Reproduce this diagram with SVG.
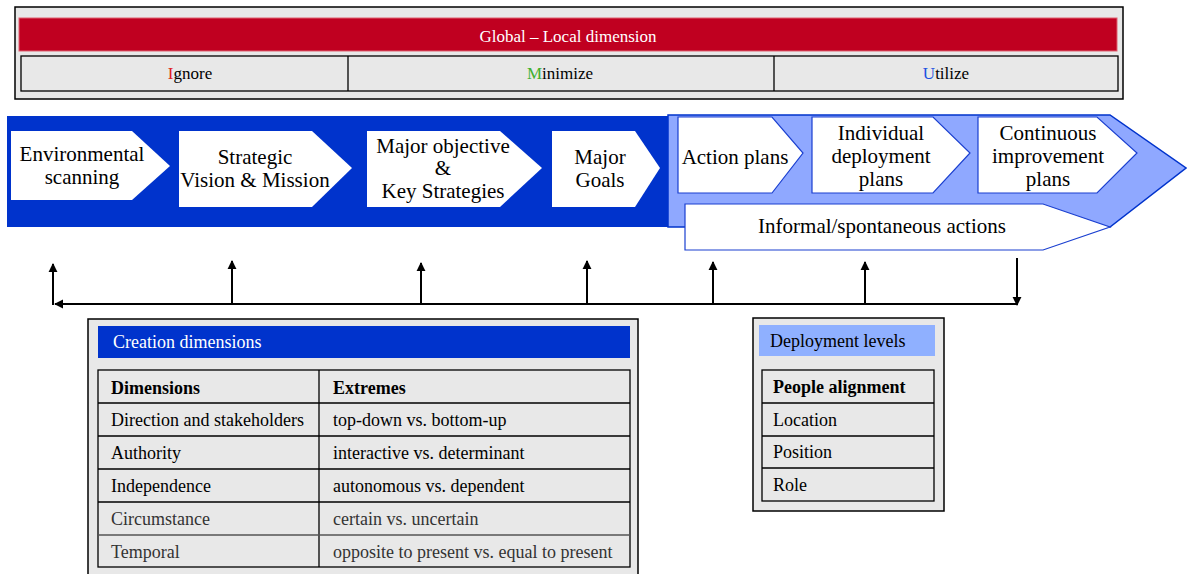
<svg xmlns="http://www.w3.org/2000/svg" width="1187" height="574" viewBox="0 0 1187 574">
<defs>
<style>
text{font-family:"Liberation Serif","Times New Roman",serif;fill:#000}
.node{font-size:21px;text-anchor:middle}
.tbl{font-size:18px}
.b{font-weight:bold}
.panel{fill:#e8e8e8;stroke:#000;stroke-width:1.5}
.cell{fill:none;stroke:#000;stroke-width:1.3}
.wn{fill:#fff;stroke:none}
.ln{fill:#fff;stroke:#1a3fd0;stroke-width:1.2}
.conn{stroke:#000;stroke-width:2;fill:none}
</style>
<marker id="ah" viewBox="0 0 10 10" refX="9" refY="5" markerWidth="4.5" markerHeight="5" orient="auto" markerUnits="strokeWidth">
<path d="M0,0 L10,5 L0,10 z" fill="#000"/>
</marker>
</defs>
<rect width="1187" height="574" fill="#fff"/>

<g id="global-local">
<rect class="panel" x="15" y="7" width="1108" height="92"/>
<rect x="19" y="18" width="1098" height="33" fill="#c00020" stroke="#e06070" stroke-width="1"/>
<text x="568" y="42" font-size="17" text-anchor="middle" style="fill:#fff">Global – Local dimension</text>
<rect class="cell" x="21" y="56" width="1097" height="35"/>
<line class="cell" x1="348" y1="56" x2="348" y2="91"/>
<line class="cell" x1="774" y1="56" x2="774" y2="91"/>
<text x="190" y="79" font-size="17" text-anchor="middle"><tspan style="fill:#e02020">I</tspan>gnore</text>
<text x="560" y="79" font-size="17" text-anchor="middle"><tspan style="fill:#40b030">M</tspan>inimize</text>
<text x="946" y="79" font-size="17" text-anchor="middle"><tspan style="fill:#2050e0">U</tspan>tilize</text>
</g>

<g id="bands">
<rect x="7" y="116" width="661" height="111" fill="#0033cc"/>
<polygon points="668,115 1110,115 1186,168 1110,227 668,227" fill="#8fa8ff" stroke="#0033cc" stroke-width="1.5"/>
</g>

<g id="node-environmental">
<polygon class="wn" points="11,131 132,131 170,166 132,200 11,200"/>
<text class="node" x="82" y="161">Environmental</text>
<text class="node" x="82" y="184">scanning</text>
</g>
<g id="node-strategic">
<polygon class="wn" points="179,131 312,131 352,168 312,207 179,207"/>
<text class="node" x="255" y="164">Strategic</text>
<text class="node" x="255" y="187">Vision &amp; Mission</text>
</g>
<g id="node-objective">
<polygon class="wn" points="367,131 500,131 542,168 500,207 367,207"/>
<text class="node" x="443" y="153">Major objective</text>
<text class="node" x="443" y="175">&amp;</text>
<text class="node" x="443" y="198">Key Strategies</text>
</g>
<g id="node-goals">
<polygon class="wn" points="552,131 635,131 660,168 635,207 552,207"/>
<text class="node" x="600" y="164">Major</text>
<text class="node" x="600" y="187">Goals</text>
</g>
<g id="node-action">
<polygon class="ln" points="678,117 772,117 803,153 772,193 678,193"/>
<text class="node" x="735" y="164">Action plans</text>
</g>
<g id="node-individual">
<polygon class="ln" points="812,117 933,117 970,153 933,193 812,193"/>
<text class="node" x="881" y="140">Individual</text>
<text class="node" x="881" y="163">deployment</text>
<text class="node" x="881" y="186">plans</text>
</g>
<g id="node-continuous">
<polygon class="ln" points="978,117 1097,117 1137,153 1097,193 978,193"/>
<text class="node" x="1048" y="140">Continuous</text>
<text class="node" x="1048" y="163">improvement</text>
<text class="node" x="1048" y="186">plans</text>
</g>
<g id="node-informal">
<polygon class="ln" points="685,204 1043,204 1110,227 1043,250 685,250" stroke-width="1.5"/>
<text class="node" x="882" y="233">Informal/spontaneous actions</text>
</g>

<g id="connectors">
<line class="conn" x1="1017" y1="304" x2="55" y2="304" marker-end="url(#ah)"/>
<line class="conn" x1="53" y1="305" x2="53" y2="264" marker-end="url(#ah)"/>
<line class="conn" x1="232" y1="304" x2="232" y2="261" marker-end="url(#ah)"/>
<line class="conn" x1="421" y1="304" x2="421" y2="263" marker-end="url(#ah)"/>
<line class="conn" x1="587" y1="304" x2="587" y2="261" marker-end="url(#ah)"/>
<line class="conn" x1="713" y1="304" x2="713" y2="262" marker-end="url(#ah)"/>
<line class="conn" x1="865" y1="304" x2="865" y2="262" marker-end="url(#ah)"/>
<line class="conn" x1="1017" y1="258" x2="1017" y2="305" marker-end="url(#ah)"/>
</g>

<g id="creation-dimensions">
<rect class="panel" x="88" y="319" width="550" height="262"/>
<rect x="98" y="326" width="532" height="32" fill="#0033cc"/>
<text class="tbl" x="113" y="348" style="fill:#fff">Creation dimensions</text>
<rect class="cell" x="98" y="370" width="532" height="197"/>
<line class="cell" x1="319" y1="370" x2="319" y2="567"/>
<line class="cell" x1="98" y1="403" x2="630" y2="403" stroke-width="2"/>
<line class="cell" x1="98" y1="436" x2="630" y2="436"/>
<line class="cell" x1="98" y1="469" x2="630" y2="469" stroke-width="2"/>
<line class="cell" x1="98" y1="502" x2="630" y2="502"/>
<line class="cell" x1="98" y1="535" x2="630" y2="535" style="stroke:#555"/>
<text class="tbl b" x="111" y="394">Dimensions</text>
<text class="tbl b" x="333" y="394">Extremes</text>
<text class="tbl" x="111" y="426">Direction and stakeholders</text>
<text class="tbl" x="333" y="426">top-down vs. bottom-up</text>
<text class="tbl" x="111" y="459">Authority</text>
<text class="tbl" x="333" y="459">interactive vs. determinant</text>
<text class="tbl" x="111" y="492">Independence</text>
<text class="tbl" x="333" y="492">autonomous vs. dependent</text>
<text class="tbl" x="111" y="525" style="fill:#333">Circumstance</text>
<text class="tbl" x="333" y="525" style="fill:#333">certain vs. uncertain</text>
<text class="tbl" x="111" y="558" style="fill:#333">Temporal</text>
<text class="tbl" x="333" y="558" style="fill:#333">opposite to present vs. equal to present</text>
</g>

<g id="deployment-levels">
<rect class="panel" x="753" y="318" width="191" height="193"/>
<rect x="759" y="325" width="176" height="31" fill="#8fb0ff"/>
<text class="tbl" x="770" y="347">Deployment levels</text>
<rect class="cell" x="762" y="370" width="172" height="131"/>
<line class="cell" x1="762" y1="403" x2="934" y2="403"/>
<line class="cell" x1="762" y1="436" x2="934" y2="436"/>
<line class="cell" x1="762" y1="468" x2="934" y2="468"/>
<text class="tbl b" x="773" y="393">People alignment</text>
<text class="tbl" x="773" y="426">Location</text>
<text class="tbl" x="773" y="458">Position</text>
<text class="tbl" x="773" y="491">Role</text>
</g>
</svg>
